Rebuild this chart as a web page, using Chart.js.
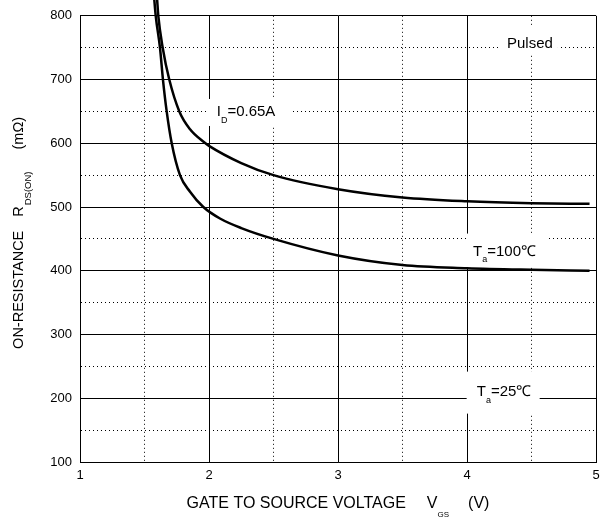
<!DOCTYPE html>
<html>
<head>
  <meta charset="utf-8">
  <title>On-Resistance vs Gate to Source Voltage</title>
  <script src="https://cdn.jsdelivr.net/npm/chart.js@4/dist/chart.umd.min.js"></script>
  <style>
    html, body { margin: 0; padding: 0; background: #fff; }
  </style>
</head>
<body>
  <canvas id="ronChart" width="611" height="517"></canvas>
  <script>
    // curve: V_GS (V) against R_DS(ON) (mOhm)
    var vgsHot = [1.598, 1.607, 1.641, 1.692, 1.77, 1.853, 1.96, 2.0, 2.25, 2.5, 3.0, 3.5, 4.0, 4.5, 4.95];
    var ronHot = [825, 800, 750, 700, 650, 622, 602, 596, 569, 550, 528, 515, 509, 506, 505];

    var vgsCold = [1.574, 1.587, 1.62, 1.643, 1.672, 1.711, 1.775, 1.853, 1.956, 2.085, 2.25, 2.5, 3.0, 3.5, 4.0, 4.5, 4.95];
    var ronCold = [830, 800, 750, 700, 650, 600, 550, 524, 500, 482, 467, 450, 424, 409, 404, 401.5, 400];

    // labelled ticks; the half steps in between only get a dotted line
    var xMajor = [1, 2, 3, 4, 5];
    var yMajor = [100, 200, 300, 400, 500, 600, 700, 800];

    var FONT = '"Liberation Sans", Arial, Helvetica, sans-serif';

    function toPoints(xs, ys) {
      return xs.map(function (x, i) { return { x: x, y: ys[i] }; });
    }

    // draw text pieces (some subscripted) centred on cx
    function drawRun(ctx, parts, cx, baseY, size, subSize, subDrop) {
      var total = 0;
      parts.forEach(function (p) {
        ctx.font = (p.sub ? subSize : size) + 'px ' + FONT;
        p.w = ctx.measureText(p.t).width;
        total += (p.gap || 0) + p.w;
      });
      var x = cx - total / 2;
      ctx.textAlign = 'left';
      ctx.textBaseline = 'alphabetic';
      parts.forEach(function (p) {
        x += p.gap || 0;
        ctx.font = (p.sub ? subSize : size) + 'px ' + FONT;
        ctx.fillText(p.t, x, p.sub ? baseY + subDrop : baseY);
        x += p.w;
      });
    }

    var notes = [
      { x: 4.488, y: 758, dx: -1, dy: -3, w: 58, h: 29, parts: [{ t: 'Pulsed' }] },
      { x: 2.287, y: 650.7, dx: 3, dy: 1.5, w: 82, h: 27, parts: [{ t: 'I' }, { t: 'D', sub: true }, { t: '=0.65A' }] },
      { x: 4.291, y: 431.7, dx: 1.5, dy: 0, w: 80, h: 34, parts: [{ t: 'T' }, { t: 'a', sub: true }, { t: '=100\u2103' }] },
      { x: 4.288, y: 212, dx: -1, dy: 2, w: 73, h: 42, parts: [{ t: 'T' }, { t: 'a', sub: true }, { t: '=25\u2103' }] }
    ];

    var notesPlugin = {
      id: 'notes',
      beforeDatasetsDraw: function (chart) {
        var ctx = chart.ctx;
        var xs = chart.scales.x, ys = chart.scales.y;
        ctx.save();
        notes.forEach(function (n) {
          var cx = xs.getPixelForValue(n.x);
          var cy = ys.getPixelForValue(n.y);
          ctx.fillStyle = '#fff';
          ctx.fillRect(cx + n.dx - n.w / 2, cy + n.dy - n.h / 2, n.w, n.h);
          ctx.fillStyle = '#000';
          drawRun(ctx, n.parts, cx, cy + 5.4, 15, 9, 6.5);
        });
        ctx.restore();
      },
      afterDraw: function (chart) {
        var ctx = chart.ctx;
        var area = chart.chartArea;
        ctx.save();
        ctx.fillStyle = '#000';
        // x title
        drawRun(ctx, [
          { t: 'GATE TO SOURCE VOLTAGE' },
          { t: 'V', gap: 21 },
          { t: 'GS', sub: true },
          { t: '(V)', gap: 19 }
        ], (area.left + area.right) / 2, 507.5, 16, 8, 9);
        // y title, rotated
        ctx.translate(23.2, (area.top + area.bottom) / 2 - 6);
        ctx.rotate(-Math.PI / 2);
        drawRun(ctx, [
          { t: 'ON-RESISTANCE' },
          { t: 'R', gap: 14 },
          { t: 'DS(ON)', sub: true, gap: 1 },
          { t: '(m\u03A9)', gap: 22 }
        ], 0, 0, 14.5, 9.5, 8);
        ctx.restore();
      }
    };

    function minorDash(ctx, majors) {
      if (!ctx.tick) return [];
      return majors.indexOf(ctx.tick.value) >= 0 ? [] : [1, 3];
    }

    var chart = new Chart(document.getElementById('ronChart').getContext('2d'), {
      type: 'line',
      data: {
        datasets: [{
          label: 'Ta=100\u2103',
          data: toPoints(vgsHot, ronHot),
          borderColor: '#000',
          borderWidth: 2.5,
          pointRadius: 0,
          fill: false,
          cubicInterpolationMode: 'monotone',
          clip: false
        }, {
          label: 'Ta=25\u2103',
          data: toPoints(vgsCold, ronCold),
          borderColor: '#000',
          borderWidth: 2.5,
          pointRadius: 0,
          fill: false,
          cubicInterpolationMode: 'monotone',
          clip: false
        }]
      },
      options: {
        responsive: false,
        animation: false,
        events: [],
        layout: { padding: { top: 12, right: 15, left: 0, bottom: 0 } },
        plugins: {
          legend: { display: false },
          tooltip: { enabled: false }
        },
        scales: {
          x: {
            type: 'linear',
            min: 1,
            max: 5,
            afterFit: function (scale) { scale.height = 55; },
            ticks: {
              stepSize: 0.5,
              autoSkip: false,
              maxRotation: 0,
              padding: 6,
              color: '#000',
              font: { family: FONT, size: 13 },
              callback: function (v) { return xMajor.indexOf(v) >= 0 ? String(v) : ''; }
            },
            grid: { color: '#000', lineWidth: 1, drawTicks: false },
            border: {
              color: '#000',
              width: 1,
              dash: function (ctx) { return minorDash(ctx, xMajor); }
            }
          },
          y: {
            type: 'linear',
            min: 100,
            max: 800,
            afterFit: function (scale) { scale.width = 80; },
            ticks: {
              stepSize: 50,
              autoSkip: false,
              padding: 8,
              color: '#000',
              font: { family: FONT, size: 13 },
              callback: function (v) { return yMajor.indexOf(v) >= 0 ? String(v) : ''; }
            },
            grid: { color: '#000', lineWidth: 1, drawTicks: false },
            border: {
              color: '#000',
              width: 1,
              dash: function (ctx) { return minorDash(ctx, yMajor); }
            }
          }
        }
      },
      plugins: [notesPlugin]
    });
  </script>
</body>
</html>
